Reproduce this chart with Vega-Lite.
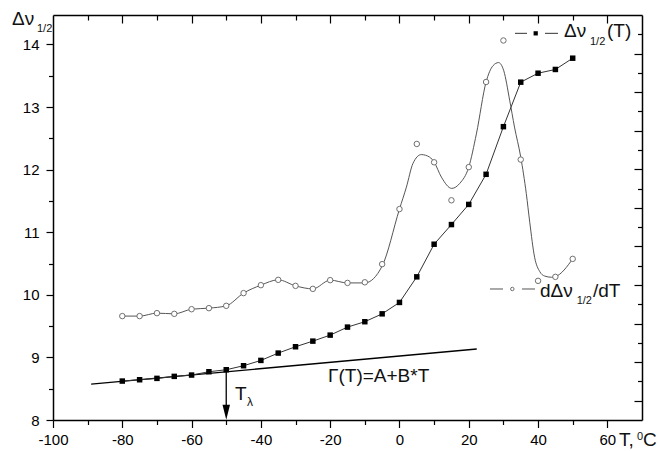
{
  "$schema": "https://vega.github.io/schema/vega-lite/v6.json",
  "width": 589,
  "height": 405,
  "autosize": {"type": "none"},
  "padding": {"left": 53, "top": 15, "right": 18, "bottom": 31},
  "background": "white",
  "config": {"view": {"stroke": null}, "text": {"font": "Liberation Sans"}},
  "resolve": {"axis": {"x": "independent", "y": "independent"}},
  "datasets": {
    "squares": [
      {"T": -80, "v": 8.622}, {"T": -75, "v": 8.643}, {"T": -70, "v": 8.665}, {"T": -65, "v": 8.697},
      {"T": -60, "v": 8.718}, {"T": -55, "v": 8.771}, {"T": -50, "v": 8.803}, {"T": -45, "v": 8.867},
      {"T": -40, "v": 8.952}, {"T": -35, "v": 9.069}, {"T": -30, "v": 9.17}, {"T": -25, "v": 9.26},
      {"T": -20, "v": 9.356}, {"T": -15, "v": 9.484}, {"T": -10, "v": 9.57}, {"T": -5, "v": 9.696},
      {"T": 0, "v": 9.878}, {"T": 5, "v": 10.287}, {"T": 10, "v": 10.808}, {"T": 15, "v": 11.122},
      {"T": 20, "v": 11.444}, {"T": 25, "v": 11.925}, {"T": 30, "v": 12.686}, {"T": 35, "v": 13.397},
      {"T": 40, "v": 13.54}, {"T": 45, "v": 13.6}, {"T": 50, "v": 13.78}
    ],
    "circles": [
      {"T": -80, "v": 9.66}, {"T": -75, "v": 9.66}, {"T": -70, "v": 9.707}, {"T": -65, "v": 9.696},
      {"T": -60, "v": 9.77}, {"T": -55, "v": 9.787}, {"T": -50, "v": 9.824}, {"T": -45, "v": 10.027},
      {"T": -40, "v": 10.154}, {"T": -35, "v": 10.239}, {"T": -30, "v": 10.143}, {"T": -25, "v": 10.095},
      {"T": -20, "v": 10.234}, {"T": -15, "v": 10.19}, {"T": -10, "v": 10.2}, {"T": -5, "v": 10.49},
      {"T": 0, "v": 11.37}, {"T": 5, "v": 12.41}, {"T": 10, "v": 12.117}, {"T": 15, "v": 11.51},
      {"T": 20, "v": 12.04}, {"T": 25, "v": 13.4}, {"T": 30, "v": 14.063}, {"T": 35, "v": 12.16},
      {"T": 40, "v": 10.223}, {"T": 45, "v": 10.287}, {"T": 50, "v": 10.574}
    ],
    "curve": [
      {"T": -80, "v": 9.66}, {"T": -75, "v": 9.66}, {"T": -70, "v": 9.707}, {"T": -65, "v": 9.696},
      {"T": -60, "v": 9.77}, {"T": -55, "v": 9.787}, {"T": -50, "v": 9.824}, {"T": -45, "v": 10.027},
      {"T": -40, "v": 10.154}, {"T": -35, "v": 10.239}, {"T": -30, "v": 10.143}, {"T": -25, "v": 10.095},
      {"T": -20, "v": 10.234}, {"T": -15, "v": 10.19}, {"T": -10, "v": 10.19}, {"T": -5, "v": 10.46},
      {"T": 0, "v": 11.37}, {"T": 2, "v": 11.72}, {"T": 3.9, "v": 12.1}, {"T": 6.3, "v": 12.24},
      {"T": 8.7, "v": 12.2}, {"T": 10, "v": 12.12}, {"T": 12.1, "v": 11.88}, {"T": 15.1, "v": 11.7},
      {"T": 17.4, "v": 11.78}, {"T": 20, "v": 12.04}, {"T": 22.2, "v": 12.57}, {"T": 25, "v": 13.4},
      {"T": 27, "v": 13.66}, {"T": 28.6, "v": 13.71}, {"T": 30.1, "v": 13.58}, {"T": 31.8, "v": 13.11},
      {"T": 33.2, "v": 12.68}, {"T": 35, "v": 12.2}, {"T": 36.6, "v": 11.62}, {"T": 37.6, "v": 11.16},
      {"T": 39, "v": 10.6}, {"T": 40.5, "v": 10.37}, {"T": 41.9, "v": 10.3}, {"T": 43.9, "v": 10.28},
      {"T": 45, "v": 10.29}, {"T": 50, "v": 10.574}
    ],
    "fit": [{"T": -89, "v": 8.574}, {"T": 22.3, "v": 9.134}]
  },
  "layer": [
    {
      "data": {"name": "fit"},
      "mark": {"type": "line", "color": "black", "strokeWidth": 1.3},
      "encoding": {
        "x": {"field": "T", "type": "quantitative", "scale": {"domain": [-100, 70], "nice": false, "zero": false}, "axis": null},
        "y": {"field": "v", "type": "quantitative", "scale": {"domain": [8, 14.47], "nice": false, "zero": false}, "axis": null}
      }
    },
    {
      "data": {"name": "squares"},
      "mark": {"type": "line", "color": "#333333", "strokeWidth": 1},
      "encoding": {
        "x": {"field": "T", "type": "quantitative", "scale": {"domain": [-100, 70], "nice": false, "zero": false},
          "axis": {"orient": "bottom", "values": [-100, -90, -80, -70, -60, -50, -40, -30, -20, -10, 0, 10, 20, 30, 40, 50, 60],
            "labelExpr": "datum.value % 20 === 0 ? '' + datum.value : ''",
            "tickSize": {"condition": {"test": "datum.value % 20 !== 0", "value": 4.5}, "value": 7.5},
            "tickColor": "black", "tickWidth": 1.2, "domainColor": "black", "domainWidth": 1.5,
            "labelFont": "Liberation Sans", "labelFontSize": 15, "labelColor": "black", "labelPadding": 5,
            "labelFlush": false, "labelOverlap": false, "labelBound": false, "grid": false, "title": null}},
        "y": {"field": "v", "type": "quantitative", "scale": {"domain": [8, 14.47], "nice": false, "zero": false},
          "axis": {"orient": "left", "values": [8, 8.5, 9, 9.5, 10, 10.5, 11, 11.5, 12, 12.5, 13, 13.5, 14],
            "labelExpr": "datum.value % 1 === 0 ? '' + datum.value : ''",
            "tickSize": {"condition": {"test": "datum.value % 1 !== 0", "value": 4.5}, "value": 7},
            "tickColor": "black", "tickWidth": 1.2, "domainColor": "black", "domainWidth": 1.5,
            "labelFont": "Liberation Sans", "labelFontSize": 15, "labelColor": "black", "labelPadding": 7,
            "labelFlush": false, "labelOverlap": false, "labelBound": false, "grid": false, "title": null}}
      }
    },
    {
      "data": {"name": "squares"},
      "mark": {"type": "point", "shape": "square", "filled": true, "color": "black", "size": 30, "opacity": 1},
      "encoding": {
        "x": {"field": "T", "type": "quantitative", "scale": {"domain": [-100, 70], "nice": false, "zero": false}, "axis": null},
        "y": {"field": "v", "type": "quantitative", "scale": {"domain": [8, 14.47], "nice": false, "zero": false}, "axis": null}
      }
    },
    {
      "data": {"name": "curve"},
      "mark": {"type": "line", "interpolate": "monotone", "color": "#555555", "strokeWidth": 1},
      "encoding": {
        "x": {"field": "T", "type": "quantitative", "scale": {"domain": [-100, 70], "nice": false, "zero": false}, "axis": null},
        "y": {"field": "v", "type": "quantitative", "scale": {"domain": [8, 14.47], "nice": false, "zero": false}, "axis": null}
      }
    },
    {
      "data": {"name": "circles"},
      "mark": {"type": "point", "shape": "circle", "filled": true, "fill": "white", "stroke": "#707070", "strokeWidth": 1, "size": 30, "opacity": 1},
      "encoding": {
        "x": {"field": "T", "type": "quantitative", "scale": {"domain": [-100, 70], "nice": false, "zero": false},
          "axis": {"orient": "top", "values": [-90, -80, -70, -60, -50, -40, -30, -20, -10, 0, 10, 20, 30, 40, 50, 60],
            "labels": false,
            "tickSize": {"condition": {"test": "datum.value % 20 !== 0", "value": -5}, "value": -8},
            "tickColor": "black", "tickWidth": 1.2, "domainColor": "black", "domainWidth": 1.5, "grid": false, "title": null}},
        "y": {"field": "v", "type": "quantitative", "scale": {"domain": [8, 14.47], "nice": false, "zero": false},
          "axis": {"orient": "right", "values": [8.3081, 8.6162, 8.9243, 9.2324, 9.5405, 9.8486, 10.1567, 10.4648, 10.7729, 11.081, 11.389, 11.6971, 12.0052, 12.3133, 12.6214, 12.9295, 13.2376, 13.5457, 13.8538, 14.1619],
            "labels": false,
            "tickSize": {"condition": {"test": "round((datum.value - 8) / 0.308095) % 2 === 0", "value": -4.5}, "value": -8},
            "tickColor": "black", "tickWidth": 1.2, "domainColor": "black", "domainWidth": 1.5, "grid": false, "title": null}}
      }
    },
    {
      "data": {"values": [{}]},
      "mark": {"type": "rule", "color": "black", "strokeWidth": 1.3},
      "encoding": {
        "x": {"datum": -50, "type": "quantitative", "scale": {"domain": [-100, 70], "nice": false, "zero": false}, "axis": null},
        "y": {"datum": 8.78, "type": "quantitative", "scale": {"domain": [8, 14.47], "nice": false, "zero": false}, "axis": null},
        "y2": {"datum": 8.1}
      }
    },
    {
      "data": {"values": [{}]},
      "mark": {"type": "point", "shape": "M-0.5,-2L0.5,-2L0,0Z", "filled": true, "color": "black", "size": 225, "opacity": 1, "strokeWidth": 0},
      "encoding": {
        "x": {"datum": -50, "type": "quantitative", "scale": {"domain": [-100, 70], "nice": false, "zero": false}, "axis": null},
        "y": {"datum": 8.005, "type": "quantitative", "scale": {"domain": [8, 14.47], "nice": false, "zero": false}, "axis": null}
      }
    },
    {
      "data": {"values": [{}]},
      "mark": {"type": "rule", "color": "#333333", "strokeWidth": 1},
      "encoding": {
        "x": {"datum": 33.34, "type": "quantitative", "scale": {"domain": [-100, 70], "nice": false, "zero": false}, "axis": null},
        "x2": {"datum": 36.81},
        "y": {"datum": 14.177, "type": "quantitative", "scale": {"domain": [8, 14.47], "nice": false, "zero": false}, "axis": null}
      }
    },
    {
      "data": {"values": [{}]},
      "mark": {"type": "rule", "color": "#333333", "strokeWidth": 1},
      "encoding": {
        "x": {"datum": 42.0, "type": "quantitative", "scale": {"domain": [-100, 70], "nice": false, "zero": false}, "axis": null},
        "x2": {"datum": 45.76},
        "y": {"datum": 14.177, "type": "quantitative", "scale": {"domain": [8, 14.47], "nice": false, "zero": false}, "axis": null}
      }
    },
    {
      "data": {"values": [{}]},
      "mark": {"type": "point", "shape": "square", "filled": true, "color": "black", "size": 18, "opacity": 1},
      "encoding": {
        "x": {"datum": 39.32, "type": "quantitative", "scale": {"domain": [-100, 70], "nice": false, "zero": false}, "axis": null},
        "y": {"datum": 14.177, "type": "quantitative", "scale": {"domain": [8, 14.47], "nice": false, "zero": false}, "axis": null}
      }
    },
    {
      "data": {"values": [{}]},
      "mark": {"type": "rule", "color": "#555555", "strokeWidth": 1},
      "encoding": {
        "x": {"datum": 26.13, "type": "quantitative", "scale": {"domain": [-100, 70], "nice": false, "zero": false}, "axis": null},
        "x2": {"datum": 29.88},
        "y": {"datum": 10.093, "type": "quantitative", "scale": {"domain": [8, 14.47], "nice": false, "zero": false}, "axis": null}
      }
    },
    {
      "data": {"values": [{}]},
      "mark": {"type": "rule", "color": "#555555", "strokeWidth": 1},
      "encoding": {
        "x": {"datum": 35.37, "type": "quantitative", "scale": {"domain": [-100, 70], "nice": false, "zero": false}, "axis": null},
        "x2": {"datum": 39.12},
        "y": {"datum": 10.093, "type": "quantitative", "scale": {"domain": [8, 14.47], "nice": false, "zero": false}, "axis": null}
      }
    },
    {
      "data": {"values": [{}]},
      "mark": {"type": "point", "shape": "circle", "filled": true, "fill": "white", "stroke": "#707070", "strokeWidth": 1, "size": 12, "opacity": 1},
      "encoding": {
        "x": {"datum": 32.57, "type": "quantitative", "scale": {"domain": [-100, 70], "nice": false, "zero": false}, "axis": null},
        "y": {"datum": 10.093, "type": "quantitative", "scale": {"domain": [8, 14.47], "nice": false, "zero": false}, "axis": null}
      }
    },
    {
      "data": {"values": [{}]},
      "mark": {"type": "text", "text": "Δν", "align": "left", "baseline": "alphabetic", "fontSize": 19, "color": "#111111"},
      "encoding": {
        "x": {"datum": -111.83, "type": "quantitative", "scale": {"domain": [-100, 70], "nice": false, "zero": false}, "axis": null},
        "y": {"datum": 14.31, "type": "quantitative", "scale": {"domain": [8, 14.47], "nice": false, "zero": false}, "axis": null}
      }
    },
    {
      "data": {"values": [{}]},
      "mark": {"type": "text", "text": "1/2", "align": "left", "baseline": "alphabetic", "fontSize": 11, "color": "#111111"},
      "encoding": {
        "x": {"datum": -104.62, "type": "quantitative", "scale": {"domain": [-100, 70], "nice": false, "zero": false}, "axis": null},
        "y": {"datum": 14.203, "type": "quantitative", "scale": {"domain": [8, 14.47], "nice": false, "zero": false}, "axis": null}
      }
    },
    {
      "data": {"values": [{}]},
      "mark": {"type": "text", "text": "T,", "align": "left", "baseline": "alphabetic", "fontSize": 19, "color": "#111111"},
      "encoding": {
        "x": {"datum": 63.36, "type": "quantitative", "scale": {"domain": [-100, 70], "nice": false, "zero": false}, "axis": null},
        "y": {"datum": 7.585, "type": "quantitative", "scale": {"domain": [8, 14.47], "nice": false, "zero": false}, "axis": null}
      }
    },
    {
      "data": {"values": [{}]},
      "mark": {"type": "text", "text": "0", "align": "left", "baseline": "alphabetic", "fontSize": 11, "color": "#111111"},
      "encoding": {
        "x": {"datum": 68.56, "type": "quantitative", "scale": {"domain": [-100, 70], "nice": false, "zero": false}, "axis": null},
        "y": {"datum": 7.68, "type": "quantitative", "scale": {"domain": [8, 14.47], "nice": false, "zero": false}, "axis": null}
      }
    },
    {
      "data": {"values": [{}]},
      "mark": {"type": "text", "text": "C", "align": "left", "baseline": "alphabetic", "fontSize": 19, "color": "#111111"},
      "encoding": {
        "x": {"datum": 70.29, "type": "quantitative", "scale": {"domain": [-100, 70], "nice": false, "zero": false}, "axis": null},
        "y": {"datum": 7.585, "type": "quantitative", "scale": {"domain": [8, 14.47], "nice": false, "zero": false}, "axis": null}
      }
    },
    {
      "data": {"values": [{}]},
      "mark": {"type": "text", "text": "Δν", "align": "left", "baseline": "alphabetic", "fontSize": 19, "color": "#111111"},
      "encoding": {
        "x": {"datum": 47.49, "type": "quantitative", "scale": {"domain": [-100, 70], "nice": false, "zero": false}, "axis": null},
        "y": {"datum": 14.118, "type": "quantitative", "scale": {"domain": [8, 14.47], "nice": false, "zero": false}, "axis": null}
      }
    },
    {
      "data": {"values": [{}]},
      "mark": {"type": "text", "text": "1/2", "align": "left", "baseline": "alphabetic", "fontSize": 11, "color": "#111111"},
      "encoding": {
        "x": {"datum": 54.99, "type": "quantitative", "scale": {"domain": [-100, 70], "nice": false, "zero": false}, "axis": null},
        "y": {"datum": 13.994, "type": "quantitative", "scale": {"domain": [8, 14.47], "nice": false, "zero": false}, "axis": null}
      }
    },
    {
      "data": {"values": [{}]},
      "mark": {"type": "text", "text": "(T)", "align": "left", "baseline": "alphabetic", "fontSize": 19, "color": "#111111"},
      "encoding": {
        "x": {"datum": 59.9, "type": "quantitative", "scale": {"domain": [-100, 70], "nice": false, "zero": false}, "axis": null},
        "y": {"datum": 14.118, "type": "quantitative", "scale": {"domain": [8, 14.47], "nice": false, "zero": false}, "axis": null}
      }
    },
    {
      "data": {"values": [{}]},
      "mark": {"type": "text", "text": "dΔν", "align": "left", "baseline": "alphabetic", "fontSize": 19, "color": "#111111"},
      "encoding": {
        "x": {"datum": 40.56, "type": "quantitative", "scale": {"domain": [-100, 70], "nice": false, "zero": false}, "axis": null},
        "y": {"datum": 9.97, "type": "quantitative", "scale": {"domain": [8, 14.47], "nice": false, "zero": false}, "axis": null}
      }
    },
    {
      "data": {"values": [{}]},
      "mark": {"type": "text", "text": "1/2", "align": "left", "baseline": "alphabetic", "fontSize": 11, "color": "#111111"},
      "encoding": {
        "x": {"datum": 51.15, "type": "quantitative", "scale": {"domain": [-100, 70], "nice": false, "zero": false}, "axis": null},
        "y": {"datum": 9.861, "type": "quantitative", "scale": {"domain": [8, 14.47], "nice": false, "zero": false}, "axis": null}
      }
    },
    {
      "data": {"values": [{}]},
      "mark": {"type": "text", "text": "/dT", "align": "left", "baseline": "alphabetic", "fontSize": 19, "color": "#111111"},
      "encoding": {
        "x": {"datum": 55.86, "type": "quantitative", "scale": {"domain": [-100, 70], "nice": false, "zero": false}, "axis": null},
        "y": {"datum": 9.97, "type": "quantitative", "scale": {"domain": [8, 14.47], "nice": false, "zero": false}, "axis": null}
      }
    },
    {
      "data": {"values": [{}]},
      "mark": {"type": "text", "text": "Γ(T)=A+B*T", "align": "left", "baseline": "alphabetic", "fontSize": 19, "color": "#111111"},
      "encoding": {
        "x": {"datum": -20.63, "type": "quantitative", "scale": {"domain": [-100, 70], "nice": false, "zero": false}, "axis": null},
        "y": {"datum": 8.607, "type": "quantitative", "scale": {"domain": [8, 14.47], "nice": false, "zero": false}, "axis": null}
      }
    },
    {
      "data": {"values": [{}]},
      "mark": {"type": "text", "text": "T", "align": "left", "baseline": "alphabetic", "fontSize": 19, "color": "#111111"},
      "encoding": {
        "x": {"datum": -47.47, "type": "quantitative", "scale": {"domain": [-100, 70], "nice": false, "zero": false}, "axis": null},
        "y": {"datum": 8.319, "type": "quantitative", "scale": {"domain": [8, 14.47], "nice": false, "zero": false}, "axis": null}
      }
    },
    {
      "data": {"values": [{}]},
      "mark": {"type": "text", "text": "λ", "align": "left", "baseline": "alphabetic", "fontSize": 12, "color": "#111111"},
      "encoding": {
        "x": {"datum": -44.01, "type": "quantitative", "scale": {"domain": [-100, 70], "nice": false, "zero": false}, "axis": null},
        "y": {"datum": 8.224, "type": "quantitative", "scale": {"domain": [8, 14.47], "nice": false, "zero": false}, "axis": null}
      }
    }
  ]
}
